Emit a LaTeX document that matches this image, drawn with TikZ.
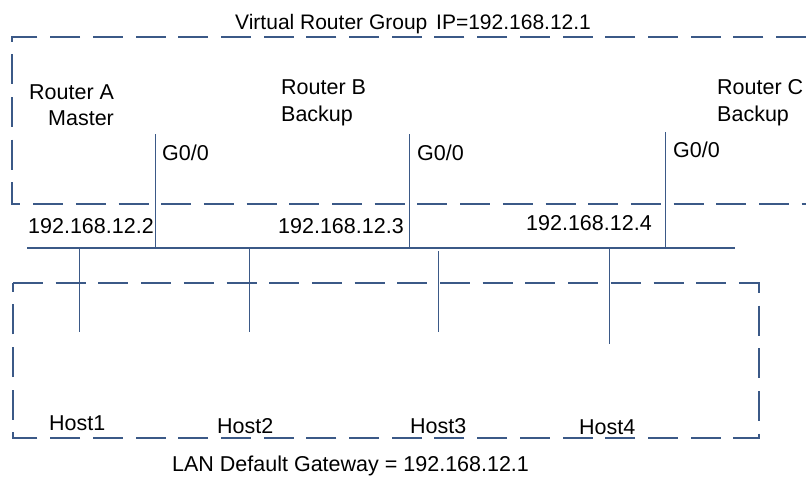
\documentclass[tikz,border=0pt]{standalone}
\usepackage{fontspec}
\setmainfont{Liberation Sans}
\usepackage{xcolor}
\usepackage{tikz}
\definecolor{netblue}{RGB}{59,89,135}

\begin{document}
\begin{tikzpicture}[
  x=1pt, y=-1pt,
  lbl/.style={inner sep=0pt, anchor=base west, font=\fontsize{21.5}{24}\selectfont},
  group/.style={draw=netblue, line width=2.6pt, dash pattern=on 30pt off 12.7pt},
  bus/.style={draw=netblue, line width=2pt},
  drop/.style={draw=netblue, line width=1pt}
]
\useasboundingbox (0,0) rectangle (806,479);

% VRRP group and LAN boxes
\draw[group] (806,37) -| (12,204) -- (806,204);
\draw[group] (13,283) -- (759,283) -- (759,438) -- (13,438) -- cycle;

% shared segment
\coordinate (busL) at (27,248);
\coordinate (busR) at (735,248);
\draw[bus] (busL) -- (busR);

% router uplinks
\coordinate (gA) at (155,134);
\coordinate (gB) at (409,134);
\coordinate (gC) at (665,132);
\draw[drop] (gA) -- (gA |- busL);
\draw[drop] (gB) -- (gB |- busL);
\draw[drop] (gC) -- (gC |- busL);

% host drops
\coordinate (hA) at (79,332);
\coordinate (hB) at (249,332);
\coordinate (hC) at (438,332);
\coordinate (hD) at (609,344);
\draw[drop] (hA |- busL) -- (hA);
\draw[drop] (hB |- busL) -- (hB);
\draw[drop] (438,251) -- (hC);
\draw[drop] (hD |- busL) -- (hD);

% labels
\node[lbl] (title) at (235,29) {\fontsize{21}{24}\selectfont Virtual Router Group\hspace{3pt} IP=192.168.12.1};
\node[lbl] (rtA) at (29,99) {Router A};
\node[lbl] (rtAm) at (48,125) {Master};
\node[lbl] (rtB) at (281,94) {Router B};
\node[lbl] (rtBb) at (281,121) {Backup};
\node[lbl] (rtC) at (717,94) {Router C};
\node[lbl] (rtCb) at (717,121) {Backup};
\node[lbl] (ifA) at (162,160) {G0/0};
\node[lbl] (ifB) at (417,160) {G0/0};
\node[lbl] (ifC) at (673,157) {G0/0};
\node[lbl] (ipA) at (28,233) {192.168.12.2};
\node[lbl] (ipB) at (278,233) {192.168.12.3};
\node[lbl] (ipC) at (526,230) {192.168.12.4};
\node[lbl] (host1) at (49,430) {Host1};
\node[lbl] (host2) at (217,433) {Host2};
\node[lbl] (host3) at (410,433) {Host3};
\node[lbl] (host4) at (579,434) {Host4};
\node[lbl] (gw) at (172,471) {LAN Default Gateway = 192.168.12.1};
\end{tikzpicture}
\end{document}
